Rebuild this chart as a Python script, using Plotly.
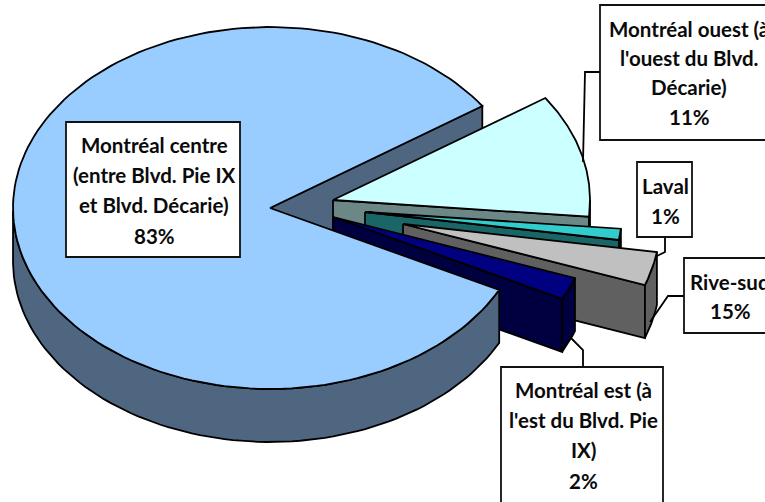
import numpy as np
import plotly.graph_objects as go

# ---- data ----
categories = ["Montréal centre", "Montréal ouest", "Laval", "Rive-sud", "Montréal est"]
values = [83, 11, 1, 3, 2]
label_lines = [
    ["Montréal centre", "(entre Blvd. Pie IX", "et Blvd. Décarie)", "83%"],
    ["Montréal ouest (à", "l'ouest du Blvd.", "Décarie)", "11%"],
    ["Laval", "1%"],
    ["Rive-sud", "15%"],
    ["Montréal est (à", "l'est du Blvd. Pie", "IX)", "2%"],
]

# ---- style / layout ----
top_colors = ["#99CCFF", "#CCFFFF", "#33CCCC", "#C0C0C0", "#000080"]
side_colors = ["#4F6680", "#6B8886", "#1A6666", "#606060", "#000040"]
apex_x = [270, 333, 365, 403, 333]
apex_y = [208, 200, 212, 224, 217]
RX, RY, DEPTH = 257, 181, 53
START_ANGLE = -26.9
label_boxes = [(66, 122, 240, 257), (600, 5, 790, 140), (637, 162, 692, 237),
               (684, 258, 790, 333), (501, 367, 663, 520)]
label_cx = [154, 689, 665, 730, 583]
label_ys = [[145, 175, 205, 236], [29, 58, 87, 117], [186, 216], [282, 311], [390, 420, 450, 481]]
leaders = [None,
           ([600, 585, 583], [72, 72, 162]),
           ([665, 665, 657], [237, 252, 256]),
           ([684, 668, 650], [296, 296, 322]),
           ([583, 583, 571], [367, 350, 338])]
LW = 1.8
FONT = dict(family="Lato", size=20.5, color="#0a0a0a")

# ---- geometry derived from the values ----
total = sum(values)
ends = START_ANGLE - np.cumsum(values) / total * 360
starts = np.concatenate([[START_ANGLE], ends[:-1]])


def poly(xs, ys, fill):
    return go.Scatter(x=list(xs) + [xs[0]], y=list(ys) + [ys[0]], mode="lines", fill="toself",
                      fillcolor=fill, line=dict(color="black", width=LW),
                      hoverinfo="skip", showlegend=False)


def arc(i, a0=None, a1=None):
    t = np.radians(np.linspace(starts[i] if a0 is None else a0, ends[i] if a1 is None else a1, 160))
    return apex_x[i] + RX * np.cos(t), apex_y[i] - RY * np.sin(t), t


def top_face(i):
    x, y, _ = arc(i)
    return poly(np.r_[apex_x[i], x], np.r_[apex_y[i], y], top_colors[i])


def cut_face(i):
    t = np.radians(ends[i])
    ex, ey = apex_x[i] + RX * np.cos(t), apex_y[i] - RY * np.sin(t)
    return poly([apex_x[i], ex, ex, apex_x[i]],
                [apex_y[i], ey, ey + DEPTH, apex_y[i] + DEPTH], side_colors[i])


def outer_wall(i):
    x, y, t = arc(i)
    m = np.sin(t) <= 0
    x, y = x[m], y[m]
    return poly(np.r_[x, x[::-1]], np.r_[y, y[::-1] + DEPTH], side_colors[i])


fig = go.Figure()
fig.add_trace(cut_face(0))
for i in range(1, len(values)):
    fig.add_trace(cut_face(i))
    fig.add_trace(outer_wall(i))
    fig.add_trace(top_face(i))
fig.add_trace(outer_wall(0))
fig.add_trace(top_face(0))

for ld in leaders:
    if ld:
        fig.add_trace(go.Scatter(x=ld[0], y=ld[1], mode="lines", line=dict(color="black", width=LW),
                                 hoverinfo="skip", showlegend=False))

for box in label_boxes:
    fig.add_shape(type="rect", x0=box[0], y0=box[1], x1=box[2], y1=box[3], xref="x", yref="y",
                  fillcolor="white", line=dict(color="#111", width=LW))

for lines, cx, ys in zip(label_lines, label_cx, label_ys):
    for txt, y in zip(lines, ys):
        fig.add_annotation(x=cx, y=y, text=f"<b>{txt}</b>", showarrow=False, font=FONT,
                           xanchor="center", yanchor="middle")

fig.update_layout(
    width=765, height=502, margin=dict(l=0, r=0, t=0, b=0),
    paper_bgcolor="white", plot_bgcolor="white",
    xaxis=dict(range=[0, 765], visible=False, fixedrange=True),
    yaxis=dict(range=[502, 0], visible=False, fixedrange=True),
)
fig.write_html("out.html", config={"displayModeBar": False},
               post_script="document.body.style.margin='0';document.body.style.overflow='hidden';")
